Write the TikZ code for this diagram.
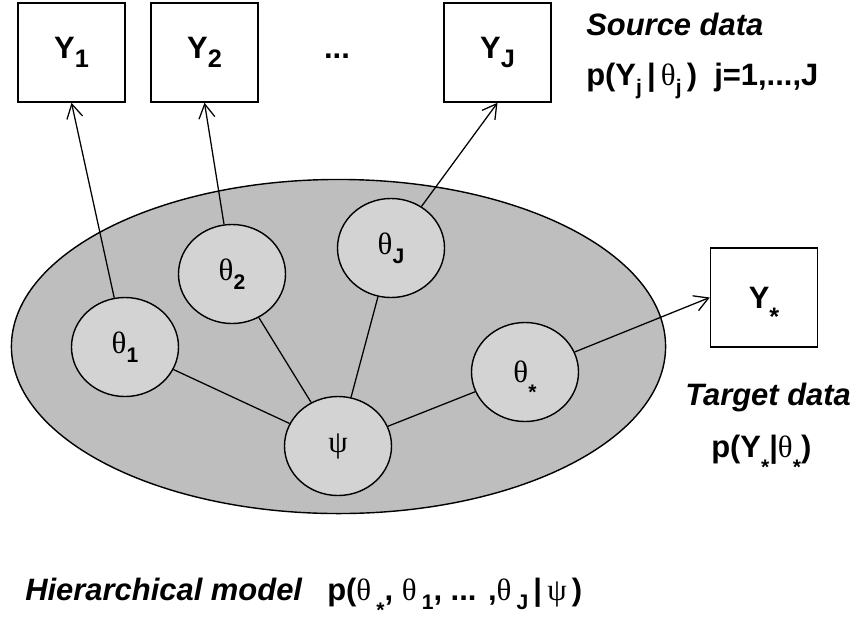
\documentclass[tikz,border=0pt]{standalone}
\usepackage{fontspec}
\setmainfont{Liberation Sans}
\newfontfamily\grk{Liberation Serif}
\usepackage{tikz}
\usetikzlibrary{positioning,arrows.meta,shapes.geometric}

\definecolor{outergray}{RGB}{190,190,190}
\definecolor{innergray}{RGB}{211,211,211}

\newcommand{\lo}[2][15]{\raisebox{-.3em}{\fontsize{#1}{#1}\selectfont #2}}
\newcommand{\lostar}[1][15]{\raisebox{-.55em}[0pt][0pt]{\fontsize{#1}{#1}\selectfont *}}
\newcommand{\gth}{{\grk\mdseries θ}}
\newcommand{\gps}{{\grk\mdseries ψ}}

\begin{document}
\begin{tikzpicture}[x=0.025cm,y=-0.025cm]
	
	\tikzset{observed/.style={draw,
			line width=1.1pt,
			fill=white,
			minimum width=2.675cm,
			minimum height=2.475cm,
			inner sep=0pt,
			font=\bfseries\fontsize{22}{26}\selectfont
		},
		latent/.style={ellipse,
			draw,
			line width=1pt,
			fill=innergray,
			minimum width=2.675cm,
			minimum height=2.475cm,
			inner sep=0pt,
			font=\bfseries\fontsize{22}{26}\selectfont
		},
		link/.style={line width=0.9pt},
		dataarrow/.style={link, -{Straight Barb[length=3.5mm,width=4mm]}},
		caption/.style={anchor=base west,
			inner sep=0pt,
			font=\bfseries\fontsize{22}{26}\selectfont
		}
	}
	
	\useasboundingbox (0,0) rectangle (852,619);
	
	\node[ellipse, draw, line width=1pt, fill=outergray, minimum width=16.35cm, minimum height=8.35cm] (model) at (338.5,346.5) {};
	
	\node[observed] (Y1) at (71.5,52.5) {Y\lo[18]{1}};
	\node[observed] (Y2) at (204.5,52.5) {Y\lo[18]{2}};
	\node[font=\bfseries\fontsize{22}{26}\selectfont] (dots) at (337,56) {...};
	\node[observed] (YJ) at (497.5,52.5) {Y\lo[18]{J}};
	\node[observed] (Ystar) at (764,297.5) {Y\lostar[18]};
	
	\node[latent] (th1) at (125,347) {\gth\lo{1}};
	\node[latent] (th2) at (232,274) {\gth\lo{2}};
	\node[latent] (thJ) at (391,248) {\gth\lo{J}};
	\node[latent] (thstar) at (525,372) {\gth\lostar};
	\node[latent] (psi) at (338,446) {\gps};
	
	\draw[dataarrow] (th1) -- (Y1.south);
	\draw[dataarrow] (th2) -- (Y2.south);
	\draw[dataarrow] (thJ) -- (YJ.south);
	\draw[dataarrow] (thstar) -- (Ystar.west);
	
	\draw[link] (th1) -- (psi);
	\draw[link] (th2) -- (psi);
	\draw[link] (thJ) -- (psi);
	\draw[link] (thstar) -- (psi);
	
	\node[caption] (srclabel) at (586,35) {\itshape Source data};
	\node[caption] (srcmodel) at (586,85) {p(Y\lo{j}\,|\,\gth\lo{j}\,) \ j=1,...,J};
	\node[caption] (tgtlabel) at (685,405) {\itshape Target data};
	\node[caption] (tgtmodel) at (711,457) {p(Y\lostar|\gth\lostar)};
	\node[caption] (hierlabel) at (25,600) {\itshape Hierarchical model};
	\node[caption] (hiermodel) at (327,600) {p(\gth\,\lostar, \gth\,\lo{1}, ... ,\gth\,\lo{J}\,|\,\gps\,)};
	
\end{tikzpicture}
\end{document}
